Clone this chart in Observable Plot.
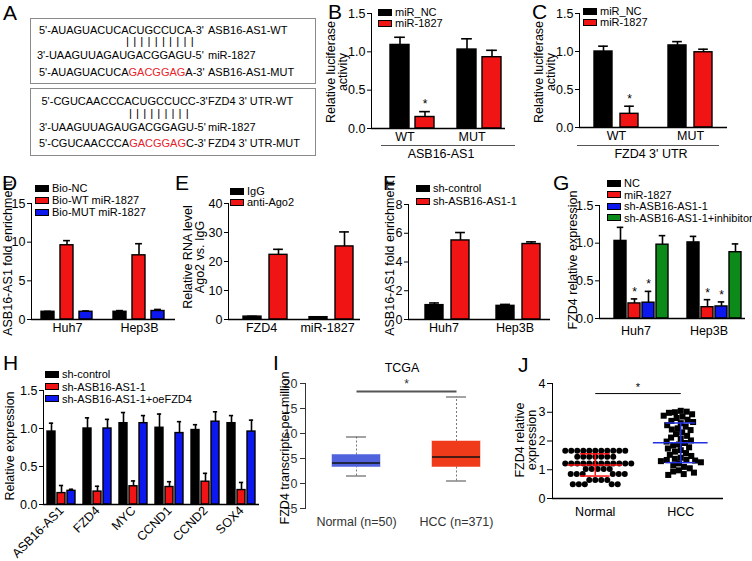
<!DOCTYPE html>
<html><head><meta charset="utf-8">
<script src="https://cdn.jsdelivr.net/npm/d3@7"></script>
<script src="https://cdn.jsdelivr.net/npm/@observablehq/plot@0.6"></script>
<style>
body{margin:0;background:#fff;}
#fig{position:relative;width:752px;height:561px;overflow:hidden;font-family:"Liberation Sans",Arial,Helvetica,sans-serif;color:#000;background:#fff;}
.abs{position:absolute;white-space:nowrap;line-height:1;}
.pl{position:absolute;}
.box{position:absolute;border:1px solid #8a8a8a;box-sizing:border-box;}
.red{color:#e8222a;}
</style></head><body><div id="fig"></div>
<script>
// ---------- DATA ----------
// Panel A sequences
const seqA1 = ["5'-AUAGUACUCACUGCCUCA-3'", "3'-UAAGUUAGAUGACGGAGU-5'", "5'-AUAGUACUCA", "GACGGAG", "A-3'"];
const labA1 = ["ASB16-AS1-WT", "miR-1827", "ASB16-AS1-MUT"];
const seqA2 = ["5'-CGUCAACCCACUGCCUCC-3'", "3'-UAAGUUAGAUGACGGAGU-5'", "5'-CGUCAACCCA", "GACGGAG", "C-3'"];
const labA2 = ["FZD4 3' UTR-WT", "miR-1827", "FZD4 3' UTR-MUT"];
const pairs1 = "||||||||||";
const pairs2 = "|||||||||";

// Panel B
const bGroups = ["WT", "MUT"];
const bSeries = ["miR_NC", "miR-1827"];
const bMean = [1.09, 0.15, 1.03, 0.93];
const bErr = [0.10, 0.07, 0.14, 0.09];
const bStar = [0, 1, 0, 0];
// Panel C
const cGroups = ["WT", "MUT"];
const cSeries = ["miR_NC", "miR-1827"];
const cMean = [1.00, 0.18, 1.08, 0.99];
const cErr = [0.07, 0.10, 0.05, 0.04];
const cStar = [0, 1, 0, 0];
// Panel D
const dGroups = ["Huh7", "Hep3B"];
const dSeries = ["Bio-NC", "Bio-WT miR-1827", "Bio-MUT miR-1827"];
const dMean = [1.0, 9.6, 1.0, 1.0, 8.3, 1.1];
const dErr = [0.05, 0.6, 0.1, 0.15, 1.5, 0.2];
// Panel E
const eGroups = ["FZD4", "miR-1827"];
const eSeries = ["IgG", "anti-Ago2"];
const eMean = [1.0, 22.3, 0.8, 25.2];
const eErr = [0.1, 1.9, 0.1, 5.0];
// Panel F
const fGroups = ["Huh7", "Hep3B"];
const fSeries = ["sh-control", "sh-ASB16-AS1-1"];
const fMean = [1.0, 5.5, 0.95, 5.25];
const fErr = [0.15, 0.55, 0.1, 0.15];
// Panel G
const gGroups = ["Huh7", "Hep3B"];
const gSeries = ["NC", "miR-1827", "sh-ASB16-AS1-1", "sh-ASB16-AS1-1+inhibitor"];
const gMean = [1.03, 0.20, 0.21, 0.98, 1.01, 0.15, 0.16, 0.88];
const gErr = [0.18, 0.06, 0.15, 0.12, 0.08, 0.10, 0.06, 0.11];
const gStar = [0, 1, 1, 0, 0, 1, 1, 0];
// Panel H
const hGroups = ["ASB16-AS1", "FZD4", "MYC", "CCND1", "CCND2", "SOX4"];
const hSeries = ["sh-control", "sh-ASB16-AS1-1", "sh-ASB16-AS1-1+oeFZD4"];
const hMean = [0.96, 0.15, 0.18, 1.00, 0.17, 1.00, 1.07, 0.24, 1.07, 1.01, 0.23, 0.94, 0.98, 0.30, 1.09, 1.07, 0.19, 0.96];
const hErr = [0.11, 0.10, 0.02, 0.14, 0.07, 0.12, 0.14, 0.07, 0.10, 0.18, 0.07, 0.15, 0.07, 0.11, 0.13, 0.10, 0.10, 0.15];
// Panel I (TCGA boxplot)
const iGroups = ["Normal (n=50)", "HCC (n=371)"];
const iMin = [1.5, 0.5];
const iQ1 = [3.3, 3.3];
const iMed = [4.1, 5.3];
const iQ3 = [5.7, 8.4];
const iMax = [9.3, 17.3];
const iSigY = 18.4;
// Panel J (scatter)
const jGroups = ["Normal", "HCC"];
const jNormal = [1.66, 1.66, 1.66, 1.66, 1.66, 1.66, 1.66, 1.66, 1.66, 1.66, 1.66,
  1.45, 1.45, 1.45, 1.45, 1.45, 1.45, 1.45,
  1.22, 1.22, 1.22, 1.22, 1.22, 1.22, 1.22, 1.22, 1.22, 1.22, 1.22, 1.22,
  1.03, 1.03, 1.03, 1.03, 1.03,
  0.85, 0.85, 0.85, 0.85, 0.85, 0.85,
  0.64, 0.64, 0.64, 0.64,
  0.50, 0.50, 0.50, 0.50, 0.50];
const jHCC = [3.05, 3.02, 2.98, 3.00, 2.93, 2.88, 2.85, 2.80, 2.74, 2.70, 2.66, 2.62, 2.55, 2.50, 2.44, 2.40, 2.38, 2.30,
  2.24, 2.18, 2.12, 2.08, 2.02, 1.98, 1.93, 1.88, 1.84, 1.78, 1.74, 1.68, 1.63, 1.58, 1.52, 1.48, 1.42, 1.38,
  1.35, 1.34, 1.32, 1.30, 1.26, 1.22, 1.16, 1.10, 1.05, 0.98, 0.94, 0.90, 0.85, 0.82];
const jSigY = 3.65;

// ---------- STYLE ----------
const FONT = '"Liberation Sans", Arial, Helvetica, sans-serif';
const BLACK = "#000000", RED = "#f01414", BLUE = "#0c18ee", GREEN = "#0c8a1a";

const fig = document.getElementById("fig");
function el(tag, cls, css, html) {
  const d = document.createElement(tag);
  if (cls) d.className = cls;
  Object.assign(d.style, css || {});
  if (html != null) d.innerHTML = html;
  fig.appendChild(d);
  return d;
}
function txt(t, x, y, size, anchor, extra) {
  const d = el("div", "abs", Object.assign({left: x + "px", top: y + "px", fontSize: size + "px",
    transform: `translate(${anchor === "middle" ? "-50%" : anchor === "end" ? "-100%" : "0"},-50%)`}, extra || {}));
  d.textContent = t;
  return d;
}
function vlabel(lines, cx, cy, size) {
  const d = el("div", "abs", {left: cx + "px", top: cy + "px", fontSize: size + "px", lineHeight: (size * 0.98) + "px",
    textAlign: "center", transform: "translate(-50%,-50%) rotate(-90deg)"});
  lines.forEach((l, i) => { if (i) d.appendChild(document.createElement("br")); d.appendChild(document.createTextNode(l)); });
}
function letter(t, x, capTop) { txt(t, x, capTop + 5.6, 21, "start"); }
function legend(names, colors, x, ys, size) {
  names.forEach((n, i) => {
    el("div", "abs", {left: x + "px", top: (ys[i] - 3.5) + "px", width: "14px", height: "7px", background: colors[i],
      border: "1px solid #000", boxSizing: "border-box"});
    txt(n, x + 17, ys[i], size, "start");
  });
}
function place(svg, left, top) {
  svg.classList.add("pl");
  svg.style.left = left + "px";
  svg.style.top = top + "px";
  fig.appendChild(svg);
}

// ---------- PANEL A ----------
letter("A", 3, 6);
el("div", "box", {left: "30px", top: "18px", width: "286px", height: "66px"});
el("div", "box", {left: "30px", top: "88px", width: "286px", height: "68px"});
const SEQ = 11;
txt(seqA1[0], 39, 30, SEQ); txt(labA1[0], 208, 30, SEQ);
txt(pairs1, 126, 42, 11.5, "start", {letterSpacing: "4.2px"});
txt(seqA1[1], 37, 55, SEQ); txt(labA1[1], 208, 55, SEQ);
el("div", "abs", {left: "39px", top: "71.5px", fontSize: SEQ + "px", transform: "translate(0,-50%)"},
  seqA1[2] + '<span class="red">' + seqA1[3] + "</span>" + seqA1[4]);
txt(labA1[2], 208, 71.5, SEQ);
txt(seqA2[0], 41.5, 101, SEQ); txt(labA2[0], 208, 101, SEQ);
txt(pairs2, 129, 114, 11.5, "start", {letterSpacing: "4.1px"});
txt(seqA2[1], 39, 127, SEQ); txt(labA2[1], 208, 127, SEQ);
el("div", "abs", {left: "39px", top: "143px", fontSize: SEQ + "px", transform: "translate(0,-50%)"},
  seqA2[2] + '<span class="red">' + seqA2[3] + "</span>" + seqA2[4]);
txt(labA2[2], 208, 143, SEQ);

// ---------- BAR PANEL HELPER ----------
function rows(groups, series, mean, err, star) {
  const out = [];
  groups.forEach((g, gi) => series.forEach((s, si) => {
    const k = gi * series.length + si;
    out.push({g, s, v: mean[k], e: err[k], star: star ? star[k] : 0});
  }));
  return out;
}
function barPanel(o) {
  const data = rows(o.groups, o.series, o.mean, o.err, o.star);
  const n = o.series.length;
  const facetW = (o.width - o.mL - o.mR) / o.groups.length;
  const step = facetW / (n - o.pi + 2 * o.po);
  const bw = step * (1 - o.pi);
  const inset = bw * 0.22;
  const svg = Plot.plot({
    width: o.width, height: o.height,
    marginLeft: o.mL, marginRight: o.mR, marginTop: o.mT, marginBottom: o.mB,
    style: {fontFamily: FONT, fontSize: "12.5px", background: "transparent", color: "#000", overflow: "visible"},
    fx: {domain: o.groups, padding: 0, label: null, axis: "bottom", tickSize: 0, tickPadding: o.fxPad, tickRotate: o.rot || 0},
    x: {domain: o.series, paddingInner: o.pi, paddingOuter: o.po, align: o.align, axis: null},
    y: {domain: o.yDomain, ticks: o.yTicks, tickFormat: o.yFormat, tickSize: 4, tickPadding: 2, line: true, label: null},
    color: {domain: o.series, range: o.colors},
    marks: [
      Plot.ruleX(data, {fx: "g", x: "s", y1: "v", y2: d => d.v + d.e, stroke: "#000", strokeWidth: 1.6}),
      Plot.tickY(data, {fx: "g", x: "s", y: d => d.v + d.e, stroke: "#000", strokeWidth: 1.6, insetLeft: inset, insetRight: inset}),
      Plot.barY(data, {fx: "g", x: "s", y: "v", fill: "s", stroke: "#000", strokeWidth: 1.4}),
      Plot.text(data.filter(d => d.star), {fx: "g", x: "s", y: d => d.v + d.e, text: () => "*", dy: -7, fontSize: 12}),
      Plot.ruleY([o.yDomain[0]], {stroke: "#000", strokeWidth: 1.5})
    ]
  });
  place(svg, o.left, o.top);
}

// ---------- PANEL B ----------
barPanel({left: 300, top: 0, width: 215, height: 165, mL: 71, mR: 10, mT: 13, mB: 37,
  groups: bGroups, series: bSeries, mean: bMean, err: bErr, star: bStar, colors: [BLACK, RED],
  yDomain: [0, 1.5], yTicks: [0, 0.5, 1, 1.5], yFormat: ".1f", pi: 0.25, po: 0.46, align: 0.8, fxPad: 4});
letter("B", 328, 5);
legend(bSeries, [BLACK, RED], 378, [12, 23], 11);
vlabel(["Relative luciferase", "activity"], 337, 72, 12.5);
el("div", "abs", {left: "381px", top: "145px", width: "134px", height: "0", borderTop: "1.5px solid #555"});
txt("ASB16-AS1", 441, 154, 12.5, "middle");

// ---------- PANEL C ----------
barPanel({left: 508, top: 0, width: 229, height: 165, mL: 70, mR: 10, mT: 13, mB: 38,
  groups: cGroups, series: cSeries, mean: cMean, err: cErr, star: cStar, colors: [BLACK, RED],
  yDomain: [0, 1.5], yTicks: [0, 0.5, 1, 1.5], yFormat: ".1f", pi: 0.3, po: 0.53, align: 0.5, fxPad: 4});
letter("C", 532, 5);
legend(cSeries, [BLACK, RED], 583, [11, 22], 11);
vlabel(["Relative luciferase", "activity"], 545, 72, 12.5);
el("div", "abs", {left: "577px", top: "145px", width: "142px", height: "0", borderTop: "1.5px solid #555"});
txt("FZD4 3' UTR", 651, 154, 12.5, "middle");

// ---------- PANEL D ----------
barPanel({left: 0, top: 170, width: 185, height: 170, mL: 30, mR: 10, mT: 33, mB: 21,
  groups: dGroups, series: dSeries, mean: dMean, err: dErr, colors: [BLACK, RED, BLUE],
  yDomain: [0, 15], yTicks: [0, 5, 10, 15], yFormat: "d", pi: 0.3, po: 0.46, align: 0.5, fxPad: 4});
letter("D", 2, 176);
legend(dSeries, [BLACK, RED, BLUE], 35, [188, 200, 212], 11);
vlabel(["ASB16-AS1 fold enrichment"], 8, 258, 12.5);

// ---------- PANEL E ----------
barPanel({left: 160, top: 170, width: 210, height: 170, mL: 67, mR: 10, mT: 33, mB: 21,
  groups: eGroups, series: eSeries, mean: eMean, err: eErr, colors: [BLACK, RED],
  yDomain: [0, 40], yTicks: [0, 10, 20, 30, 40], yFormat: "d", pi: 0.31, po: 0.385, align: 0.7, fxPad: 4});
letter("E", 175, 176);
legend(eSeries, [BLACK, RED], 230, [191, 202], 11);
vlabel(["Relative RNA level", "Ago2 vs. IgG"], 194, 257, 12.5);

// ---------- PANEL F ----------
barPanel({left: 340, top: 170, width: 220, height: 170, mL: 67, mR: 10, mT: 34, mB: 21,
  groups: fGroups, series: fSeries, mean: fMean, err: fErr, colors: [BLACK, RED],
  yDomain: [0, 8], yTicks: [0, 2, 4, 6, 8], yFormat: "d", pi: 0.3, po: 0.5, align: 0.65, fxPad: 4});
letter("F", 383, 176);
legend(fSeries, [BLACK, RED], 416, [188, 201], 11);
vlabel(["ASB16-AS1 fold enrichment"], 390, 258, 12.5);

// ---------- PANEL G ----------
barPanel({left: 530, top: 170, width: 222, height: 170, mL: 69, mR: 7, mT: 35, mB: 22,
  groups: gGroups, series: gSeries, mean: gMean, err: gErr, star: gStar, colors: [BLACK, RED, BLUE, GREEN],
  yDomain: [0, 1.5], yTicks: [0, 0.5, 1, 1.5], yFormat: ".1f", pi: 0.17, po: 0.52, align: 0.75, fxPad: 8});
letter("G", 553, 176);
legend(gSeries, [BLACK, RED, BLUE, GREEN], 607, [183, 194.5, 206, 217.5], 11);
vlabel(["FZD4 relative expression"], 573, 260, 12.5);

// ---------- PANEL H ----------
barPanel({left: 0, top: 340, width: 270, height: 221, mL: 40, mR: 9, mT: 50, mB: 57,
  groups: hGroups, series: hSeries, mean: hMean, err: hErr, colors: [BLACK, RED, BLUE],
  yDomain: [0, 1.5], yTicks: [0, 0.5, 1, 1.5], yFormat: ".1f", pi: 0.175, po: 0.37, align: 0.5, fxPad: 4, rot: -45});
letter("H", 3, 356);
legend(hSeries, [BLACK, RED, BLUE], 45, [374, 386.5, 398.5], 11);
vlabel(["Relative expression"], 10, 446, 12.5);

// ---------- PANEL I ----------
{
  const data = iGroups.map((g, k) => ({g, min: iMin[k], q1: iQ1[k], med: iMed[k], q3: iQ3[k], max: iMax[k]}));
  const svg = Plot.plot({
    width: 260, height: 221, marginLeft: 50, marginRight: 8, marginTop: 43, marginBottom: 53,
    style: {fontFamily: FONT, fontSize: "12.5px", background: "transparent", color: "#333", overflow: "visible"},
    x: {domain: iGroups, paddingInner: 0.52, paddingOuter: 0.27, label: null, tickSize: 0, tickPadding: 9},
    y: {domain: [-5, 20], ticks: [-5, 0, 5, 10, 15, 20], tickFormat: "d", tickSize: 5, tickPadding: 3, line: true, label: null},
    color: {domain: iGroups, range: ["#5063dc", "#ef3b1a"]},
    marks: [
      Plot.ruleX(data, {x: "g", y1: "q3", y2: "max", stroke: "#777", strokeDasharray: "2,2", strokeWidth: 1}),
      Plot.ruleX(data, {x: "g", y1: "min", y2: "q1", stroke: "#777", strokeDasharray: "2,2", strokeWidth: 1}),
      Plot.tickY(data, {x: "g", y: "max", stroke: "#666", strokeWidth: 1.2, insetLeft: 14, insetRight: 14}),
      Plot.tickY(data, {x: "g", y: "min", stroke: "#666", strokeWidth: 1.2, insetLeft: 14, insetRight: 14}),
      Plot.barY(data, {x: "g", y1: "q1", y2: "q3", fill: "g", stroke: "g", strokeOpacity: 0.5, strokeWidth: 1}),
      Plot.tickY(data, {x: "g", y: "med", stroke: "#111", strokeWidth: 1.5}),
      Plot.link([0], {x1: () => iGroups[0], x2: () => iGroups[1], y1: () => iSigY, y2: () => iSigY, stroke: "#555", strokeWidth: 2}),
      Plot.text(["*"], {y: () => iSigY, text: d => d, frameAnchor: "middle", dy: -7, fontSize: 12, fill: "#333"})
    ]
  });
  place(svg, 255, 340);
  letter("I", 273, 356);
  txt("TCGA", 402, 368, 12.5, "middle");
  vlabel(["FZD4 transcripts per million"], 285, 448, 12.5);
}

// ---------- PANEL J ----------
{
  const yPx = 115 / 4, xPx = 171 / 2, R = 3.0;
  function swarm(vals) {
    const order = vals.map((v, i) => i).sort((a, b) => vals[b] - vals[a]);
    const placed = [], off = [];
    for (const i of order) {
      const y = vals[i] * yPx;
      const cands = [0];
      for (const p of placed) {
        const dy = y - p.y;
        if (Math.abs(dy) < 2 * R) { const dx = Math.sqrt(4 * R * R - dy * dy); cands.push(p.x + dx, p.x - dx); }
      }
      cands.sort((a, b) => Math.abs(a) - Math.abs(b));
      let best = 0;
      for (const c of cands) {
        if (placed.every(p => (p.x - c) ** 2 + (p.y - y) ** 2 >= 4 * R * R - 1e-6)) { best = c; break; }
      }
      off[i] = best; placed.push({x: best, y});
    }
    return off;
  }
  const sets = [jNormal, jHCC];
  const pts = [];
  sets.forEach((vals, gi) => { const off = swarm(vals); vals.forEach((v, k) => pts.push({gi, v, x: gi + off[k] / xPx})); });
  const stats = sets.map((vals, gi) => ({gi, m: d3.mean(vals), sd: d3.deviation(vals)}));
  const jCol = ["#ff1010", "#2030e0"];
  const svg = Plot.plot({
    width: 232, height: 221, marginLeft: 52, marginRight: 9, marginTop: 43, marginBottom: 63,
    style: {fontFamily: FONT, fontSize: "12.5px", background: "transparent", color: "#000", overflow: "visible"},
    x: {domain: [-0.5, 1.5], ticks: [0, 1], tickFormat: i => jGroups[i], tickSize: 0, tickPadding: 9, label: null},
    y: {domain: [0, 4], ticks: [0, 1, 2, 3, 4], tickFormat: "d", tickSize: 5, tickPadding: 2, line: true, label: null},
    marks: [
      Plot.dot(pts.filter(d => d.gi === 0), {x: "x", y: "v", r: 3, fill: "#000", symbol: "circle"}),
      Plot.dot(pts.filter(d => d.gi === 1), {x: "x", y: "v", r: 3.4, fill: "#000", symbol: "square"}),
      Plot.ruleY(stats, {y: "m", x1: d => d.gi - 0.32, x2: d => d.gi + 0.32, stroke: d => jCol[d.gi], strokeWidth: 1.5}),
      Plot.ruleX(stats, {x: "gi", y1: d => d.m - d.sd, y2: d => d.m + d.sd, stroke: d => jCol[d.gi], strokeWidth: 1.5}),
      Plot.ruleY(stats, {y: d => d.m + d.sd, x1: d => d.gi - 0.175, x2: d => d.gi + 0.175, stroke: d => jCol[d.gi], strokeWidth: 1.5}),
      Plot.ruleY(stats, {y: d => d.m - d.sd, x1: d => d.gi - 0.175, x2: d => d.gi + 0.175, stroke: d => jCol[d.gi], strokeWidth: 1.5}),
      Plot.link([0], {x1: () => 0, x2: () => 1, y1: () => jSigY, y2: () => jSigY, stroke: "#000", strokeWidth: 1}),
      Plot.text(["*"], {x: () => 0.5, y: () => jSigY, text: d => d, dy: -6, fontSize: 11}),
      Plot.ruleY([0], {stroke: "#000", strokeWidth: 1.5})
    ]
  });
  place(svg, 500, 340);
  letter("J", 518, 358);
  vlabel(["FZD4 relative", "expression"], 526, 440, 12.5);
}
</script></body></html>
